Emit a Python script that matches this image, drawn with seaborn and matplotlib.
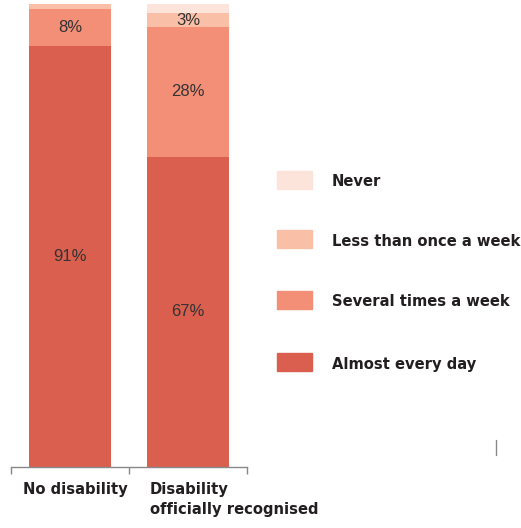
import matplotlib
matplotlib.use("Agg")
import matplotlib.pyplot as plt
import seaborn as sns
import pandas as pd
import numpy as np

sns.set_style("white")
plt.rcParams["font.family"] = ["Liberation Sans", "DejaVu Sans"]
lab_font = ["DejaVu Sans"]

categories = ["No disability", "Disability\nofficially recognised"]
series = ["Almost every day", "Several times a week", "Less than once a week", "Never"]
almost_every_day = [91, 67]
several_times = [8, 28]
less_than_once = [1, 3]
never = [0, 2]
colors = ["#DA5F4E", "#F38E77", "#F9BFA7", "#FCE4DB"]
show_labels = [[True, True], [True, True], [False, True], [False, False]]

values = [almost_every_day, several_times, less_than_once, never]
cum = np.cumsum(np.array(values), axis=0)

fig = plt.figure(figsize=(5.21, 5.28), dpi=100)
ax = fig.add_axes([11 / 521, 61 / 528, 236 / 521, 463 / 528])

for i in range(len(series) - 1, -1, -1):
    df = pd.DataFrame({"cat": categories, "val": cum[i]})
    sns.barplot(data=df, x="cat", y="val", color=colors[i], width=0.695,
                ax=ax, saturation=1, linewidth=0)

for i, s in enumerate(series):
    for j in range(len(categories)):
        if show_labels[i][j]:
            y = cum[i][j] - values[i][j] / 2
            ax.text(j, y, f"{values[i][j]}%", ha="center", va="center",
                    fontsize=12, color="#333333")

ax.set_xlim(-0.5, 1.5)
ax.set_ylim(0, 100)
ax.set_xlabel("")
ax.set_ylabel("")
ax.set_yticks([])
ax.set_xticks([-0.5, 0.5, 1.5])
ax.set_xticklabels([])
ax.tick_params(axis="x", direction="out", length=5, width=1, color="#888888", bottom=True)
for sp in ["top", "right", "left"]:
    ax.spines[sp].set_visible(False)
ax.spines["bottom"].set_color("#888888")
ax.spines["bottom"].set_linewidth(1)

lab_kw = dict(fontsize=11.8, fontweight="bold", color="#231F20", family=lab_font,
              fontstretch="condensed")

# category labels
fig.text(23 / 521, 1 - 482 / 528, "No disability", ha="left", va="top", **lab_kw)
fig.text(150 / 521, 1 - 482 / 528, "Disability\nofficially recognised", ha="left", va="top",
         linespacing=1.4, **lab_kw)

# legend
leg_y = [180, 239, 300, 362]
for k, idx in enumerate([3, 2, 1, 0]):
    yc = 1 - leg_y[k] / 528
    fig.patches.append(plt.Rectangle((277 / 521, yc - 9 / 528), 35 / 521, 18 / 528,
                                     transform=fig.transFigure, color=colors[idx]))
    fig.text(332 / 521, yc - 2 / 528, series[idx], ha="left", va="center", **lab_kw)

fig.add_artist(plt.Line2D([496 / 521, 496 / 521], [1 - 440 / 528, 1 - 455 / 528],
                          transform=fig.transFigure, color="#888888", lw=1))

fig.savefig("out.png", dpi=100)
